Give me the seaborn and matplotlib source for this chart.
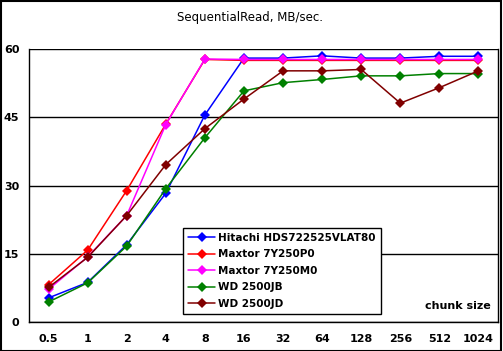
import numpy as np
import pandas as pd
import matplotlib
matplotlib.use("Agg")
import matplotlib.pyplot as plt
import seaborn as sns

# DATA
chunks = ["0.5", "1", "2", "4", "8", "16", "32", "64", "128", "256", "512", "1024"]
hitachi = [5.3, 8.7, 17.0, 28.3, 45.5, 58.0, 58.0, 58.5, 58.0, 58.0, 58.4, 58.4]
maxtor_p0 = [8.2, 15.8, 28.9, 43.5, 57.7, 57.5, 57.5, 57.5, 57.5, 57.5, 57.5, 57.5]
maxtor_m0 = [7.2, 14.3, 23.4, 43.4, 57.8, 57.7, 57.7, 57.7, 57.7, 57.7, 57.7, 57.7]
wd_jb = [4.4, 8.6, 16.7, 29.3, 40.5, 50.8, 52.6, 53.3, 54.1, 54.1, 54.6, 54.6]
wd_jd = [7.6, 14.2, 23.4, 34.6, 42.5, 49.0, 55.2, 55.2, 55.5, 48.1, 51.5, 55.2]

drives = ["Hitachi HDS722525VLAT80", "Maxtor 7Y250P0", "Maxtor 7Y250M0", "WD 2500JB", "WD 2500JD"]
series = [hitachi, maxtor_p0, maxtor_m0, wd_jb, wd_jd]
colors = ["#0000ff", "#ff0000", "#ff00ff", "#008000", "#800000"]

rows = []
for name, vals in zip(drives, series):
    for c, v in zip(chunks, vals):
        rows.append({"chunk": c, "speed": v, "drive": name})
df = pd.DataFrame(rows)

sns.set_style("white")
plt.rcParams["font.family"] = ["DejaVu Sans"]
plt.rcParams["text.color"] = "black"
plt.rcParams["xtick.color"] = "black"
plt.rcParams["ytick.color"] = "black"
plt.rcParams["xtick.labelcolor"] = "black"
plt.rcParams["ytick.labelcolor"] = "black"

fig = plt.figure(figsize=(5.03, 3.51), dpi=100)
ax = fig.add_axes([29 / 503, 1 - 322 / 351, 469 / 503, 273 / 351])

sns.lineplot(data=df, x="chunk", y="speed", hue="drive", palette=colors,
             marker="D", markersize=5, markeredgewidth=0, linewidth=1.1,
             sort=False, ax=ax)

ax.set_xlim(-0.5, len(chunks) - 0.5)
ax.set_ylim(0, 60)
ax.set_yticks([0, 15, 30, 45, 60])
ax.set_yticklabels(["0", "15", "30", "45", "60"], fontweight="bold", fontsize=8)
ax.set_xticks(range(len(chunks)))
ax.set_xticklabels(chunks, fontweight="bold", fontsize=8)
ax.set_xticks(np.arange(-0.5, len(chunks)), minor=True)
ax.tick_params(axis="x", which="major", length=0, pad=9)
ax.tick_params(axis="x", which="minor", length=4, width=1, color="black", direction="out")
ax.tick_params(axis="y", which="major", length=4, width=1, color="black", direction="out", pad=3)
ax.set_xlabel("")
ax.set_ylabel("")
ax.grid(axis="y", color="black", linewidth=1)
ax.set_axisbelow(True)
for s in ["left", "bottom", "right"]:
    ax.spines[s].set_color("black")
    ax.spines[s].set_linewidth(1)
ax.spines["top"].set_visible(False)

ax.text(0.985, 0.04, "chunk size", transform=ax.transAxes, ha="right", va="bottom",
        fontsize=8, fontweight="bold")

leg = ax.legend(loc="lower left", bbox_to_anchor=((183 - 29) / 469, (322 - 314) / 273),
                frameon=True, fancybox=False, edgecolor="black", framealpha=1,
                prop={"weight": "bold", "size": 7.5}, handlelength=2.6, labelspacing=0.62,
                borderpad=0.5, handletextpad=0.3, borderaxespad=0)
leg.get_frame().set_linewidth(1)

fig.text(250 / 503, 1 - 17 / 351, "SequentialRead, MB/sec.", ha="center", va="center", fontsize=8.5)

fig.patches.append(plt.Rectangle((0.001, 0.001), 0.996, 0.996, transform=fig.transFigure,
                                 fill=False, edgecolor="black", linewidth=1.5))

fig.savefig("out.png", dpi=100)
